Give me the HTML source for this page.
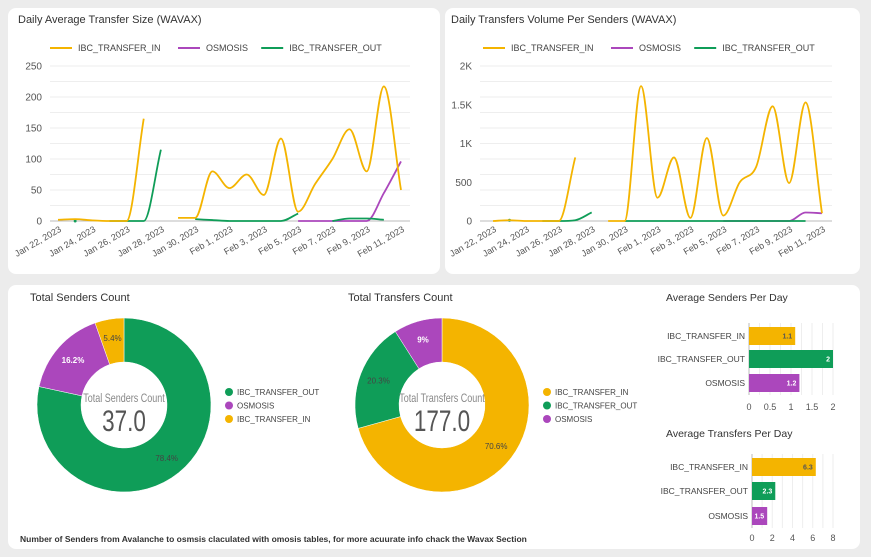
<!DOCTYPE html>
<html><head><meta charset="utf-8">
<style>
body{margin:0;width:871px;height:557px;background:#ececec;font-family:"Liberation Sans",sans-serif;overflow:hidden;position:relative}
.panel{position:absolute;background:#fff;border-radius:8px}
svg{position:absolute;left:0;top:0}
text{font-family:"Liberation Sans",sans-serif}
</style></head><body>
<div class="panel" style="left:8px;top:8px;width:432px;height:266px"></div>
<div class="panel" style="left:445px;top:8px;width:415px;height:266px"></div>
<div class="panel" style="left:8px;top:285px;width:852px;height:264px"></div>
<svg id="s" width="871" height="557"></svg>
<script>
const days=["Jan 22, 2023","Jan 23, 2023","Jan 24, 2023","Jan 25, 2023","Jan 26, 2023","Jan 27, 2023","Jan 28, 2023","Jan 29, 2023","Jan 30, 2023","Jan 31, 2023","Feb 1, 2023","Feb 2, 2023","Feb 3, 2023","Feb 4, 2023","Feb 5, 2023","Feb 6, 2023","Feb 7, 2023","Feb 8, 2023","Feb 9, 2023","Feb 10, 2023","Feb 11, 2023"];
const sizeInValues=[2,3,1,0,0,165,null,5,5,80,53,75,42,133,15,60,100,148,80,217,50];
const sizeOutValues=[null,0,null,0,0,0,115,null,3,1.5,0,0,0,0,12,null,0,4,4,2,null];
const sizeOsmValues=[null,null,null,null,null,null,null,null,null,null,null,null,null,null,0,0,0,0,0,45,96];
const volInValues=[0,10,0,0,0,820,null,0,0,1740,300,820,40,1070,70,500,700,1480,490,1530,100];
const volOutValues=[null,10,null,0,0,10,110,null,0,0,0,0,0,0,0,0,0,0,0,0,null];
const volOsmValues=[null,null,null,null,null,null,null,null,null,null,null,null,null,null,0,0,0,0,0,110,100];
const sendersCats=["IBC_TRANSFER_OUT","OSMOSIS","IBC_TRANSFER_IN"];
const sendersVals=[78.4,16.2,5.4];
const transfersCats=["IBC_TRANSFER_IN","IBC_TRANSFER_OUT","OSMOSIS"];
const transfersVals=[70.6,20.3,9];
const barCats=["IBC_TRANSFER_IN","IBC_TRANSFER_OUT","OSMOSIS"];
const avgSendersVals=[1.1,2,1.2];
const avgTransfersVals=[6.3,2.3,1.5];
const sizeTicks=[0,50,100,150,200,250];
const volTicks=[0,500,1000,1500,2000];
const volTickLabels=["0","500","1K","1.5K","2K"];
const sendTicks=[0,0.5,1,1.5,2];
const transTicks=[0,2,4,6,8];

const C={IN:"#f4b400",OUT:"#0f9d58",OSM:"#ab47bc"};
const S=document.getElementById('s');
function el(t,a,txt){const e=document.createElementNS("http://www.w3.org/2000/svg",t);for(const k in a)e.setAttribute(k,a[k]);if(txt!==undefined)e.textContent=txt;S.appendChild(e);return e;}
// monotone cubic (Fritsch-Carlson)
function smooth(p){const n=p.length;if(n<2)return"";
  const dx=[],m=[],t=[];for(let i=0;i<n-1;i++){dx[i]=p[i+1][0]-p[i][0];m[i]=(p[i+1][1]-p[i][1])/dx[i];}
  t[0]=m[0];t[n-1]=m[n-2];for(let i=1;i<n-1;i++){t[i]=(m[i-1]*m[i]<=0)?0:(m[i-1]+m[i])/2;}
  for(let i=0;i<n-1;i++){if(m[i]===0){t[i]=0;t[i+1]=0;continue;}const a=t[i]/m[i],b=t[i+1]/m[i],h=a*a+b*b;if(h>9){const k=3/Math.sqrt(h);t[i]=k*a*m[i];t[i+1]=k*b*m[i];}}
  let d=`M${p[0][0]},${p[0][1]}`;
  for(let i=0;i<n-1;i++){const h=dx[i]/3;d+=` C${p[i][0]+h},${p[i][1]+h*t[i]} ${p[i+1][0]-h},${p[i+1][1]-h*t[i+1]} ${p[i+1][0]},${p[i+1][1]}`;}
  return d;}

function lineChart(o){
  const x=i=>o.x0+i*(o.x1-o.x0)/(days.length-1);
  const y=v=>o.y0-(v/o.max)*(o.y0-o.yTop);
  el('text',{x:o.tx,y:23,'font-size':11,fill:'#333'},o.title);
  const lg=[["IBC_TRANSFER_IN",C.IN],["OSMOSIS",C.OSM],["IBC_TRANSFER_OUT",C.OUT]];
  let lx=o.lx;
  lg.forEach(([n,c],i)=>{el('line',{x1:lx,y1:48,x2:lx+22,y2:48,stroke:c,'stroke-width':2});
    const t=el('text',{x:lx+28,y:51,'font-size':9,fill:'#444'},n);
    lx+=28+n.length*5.6+16;});
  for(let g=0;g<=o.max;g+=o.max/10){el('line',{x1:o.px0,x2:o.px1,y1:y(g),y2:y(g),stroke:'#eeeeee','stroke-width':1});}
  o.ticks.forEach((t,i)=>{const e=el('text',{x:o.px0-8,y:y(t)+3.5,'font-size':10,fill:'#555','text-anchor':'end'},o.tl[i]);});
  el('line',{x1:o.px0,x2:o.px1,y1:o.y0,y2:o.y0,stroke:'#bbb','stroke-width':1});
  days.forEach((d,i)=>{if(i%2)return;const e=el('text',{x:x(i)+4,y:o.y0+10,'font-size':9,fill:'#555','text-anchor':'end',transform:`rotate(-30 ${x(i)+4} ${o.y0+10})`},d);});
  [[o.osm,C.OSM,'osmosis'],[o.out,C.OUT,'ibc-transfer-out'],[o.inn,C.IN,'ibc-transfer-in']].forEach(([arr,c,nm])=>{
    let seg=[];const segs=[];arr.forEach((v,i)=>{if(v===null){if(seg.length)segs.push(seg);seg=[];}else seg.push([x(i),y(v)]);});if(seg.length)segs.push(seg);
    segs.forEach(s=>{if(s.length==1){const c2=el('circle',{cx:s[0][0],cy:s[0][1],r:1.5,fill:c});}else{const p=el('path',{d:smooth(s),fill:'none',stroke:c,'stroke-width':1.8});}});
  });
}
lineChart({key:'avg-size',title:'Daily Average Transfer Size (WAVAX)',tx:18,lx:50,x0:58,x1:401,px0:50,px1:410,y0:221,yTop:66,max:250,ticks:sizeTicks,tl:sizeTicks.map(String),inn:sizeInValues,out:sizeOutValues,osm:sizeOsmValues});
lineChart({key:'volume',title:'Daily Transfers Volume Per Senders (WAVAX)',tx:451,lx:483,x0:493,x1:822,px0:480,px1:832,y0:221,yTop:66,max:2000,ticks:volTicks,tl:volTickLabels,inn:volInValues,out:volOutValues,osm:volOsmValues});

function donut(o){
  el('text',{x:o.tx,y:301,'font-size':11,fill:'#333'},o.title);
  const tot=o.vals.reduce((a,b)=>a+b,0);let a0=-Math.PI/2;const R=87,r=43;
  o.vals.forEach((v,i)=>{const a1=a0+v/tot*2*Math.PI;const lg=(a1-a0)>Math.PI?1:0;
    const P=(rr,a)=>[o.cx+rr*Math.cos(a),o.cy+rr*Math.sin(a)];
    const [x1,y1]=P(R,a0),[x2,y2]=P(R,a1),[x3,y3]=P(r,a1),[x4,y4]=P(r,a0);
    const p=el('path',{d:`M${x1},${y1} A${R},${R} 0 ${lg} 1 ${x2},${y2} L${x3},${y3} A${r},${r} 0 ${lg} 0 ${x4},${y4}Z`,fill:o.cols[i],stroke:'#fff','stroke-width':0.5});
    
    const am=(a0+a1)/2;const [lx,ly]=P(68,am);
    const light=o.cols[i]==C.OSM;
    el('text',{x:lx,y:ly+3,'font-size':8,fill:light?'#fff':'#444','text-anchor':'middle','font-weight':light?'bold':'normal'},(v%1?v.toFixed(1):v)+'%');
    a0=a1;});
  el('text',{x:o.cx,y:o.cy-3,'font-size':12,fill:'#888','text-anchor':'middle',transform:`translate(${o.cx} 0) scale(0.75 1) translate(${-o.cx} 0)`},o.centerTitle);
  el('text',{x:o.cx,y:o.cy+26,'font-size':30,fill:'#555','text-anchor':'middle',transform:`translate(${o.cx} 0) scale(0.75 1) translate(${-o.cx} 0)`},o.total);
  o.cats.forEach((c,i)=>{el('circle',{cx:o.lx,cy:392+i*13.5,r:4,fill:o.cols[i]});const t=el('text',{x:o.lx+8,y:395+i*13.5,'font-size':8,fill:'#444'},c);});
}
donut({key:'senders',title:'Total Senders Count',tx:30,cx:124,cy:405,cats:sendersCats,vals:sendersVals,cols:[C.OUT,C.OSM,C.IN],centerTitle:'Total Senders Count',total:'37.0',lx:229});
donut({key:'transfers',title:'Total Transfers Count',tx:348,cx:442,cy:405,cats:transfersCats,vals:transfersVals,cols:[C.IN,C.OUT,C.OSM],centerTitle:'Total Transfers Count',total:'177.0',lx:547});

function bars(o){
  el('text',{x:666,y:o.ty,'font-size':10.5,fill:'#333'},o.title);
  const x=v=>o.x0+v/o.max*(o.x1-o.x0);
  for(let g=0;g<=o.max;g+=o.max/8)el('line',{x1:x(g),x2:x(g),y1:o.yc[0]-13,y2:o.yc[2]+12,stroke:'#eee'});
  el('line',{x1:o.x0,x2:o.x0,y1:o.yc[0]-13,y2:o.yc[2]+12,stroke:'#bbb'});
  const cols=[C.IN,C.OUT,C.OSM];
  o.vals.forEach((v,i)=>{const r=el('rect',{x:o.x0,y:o.yc[i]-9,width:x(v)-o.x0,height:18,fill:cols[i]});
    el('text',{x:x(v)-3,y:o.yc[i]+2.5,'font-size':7,'font-weight':'bold',fill:i?'#fff':'#555','text-anchor':'end'},String(v));
    el('text',{x:o.x0-4,y:o.yc[i]+3,'font-size':8.5,fill:'#444','text-anchor':'end'},barCats[i]);});
  o.ticks.forEach(t=>el('text',{x:x(t),y:o.yt,'font-size':9,fill:'#555','text-anchor':'middle'},String(t)));
}
bars({key:'avg-senders',title:'Average Senders Per Day',ty:301,x0:749,x1:833,max:2,vals:avgSendersVals,yc:[336,359,383],ticks:sendTicks,yt:410});
bars({key:'avg-transfers',title:'Average Transfers Per Day',ty:437,x0:752,x1:833,max:8,vals:avgTransfersVals,yc:[467,491,516],ticks:transTicks,yt:541});

const f=el('text',{x:20,y:542,'font-size':8.5,'font-weight':'bold',fill:'#333'},'Number of Senders from Avalanche to osmsis claculated with omosis tables, for more acuurate info chack the Wavax Section');

</script>
</body></html>
